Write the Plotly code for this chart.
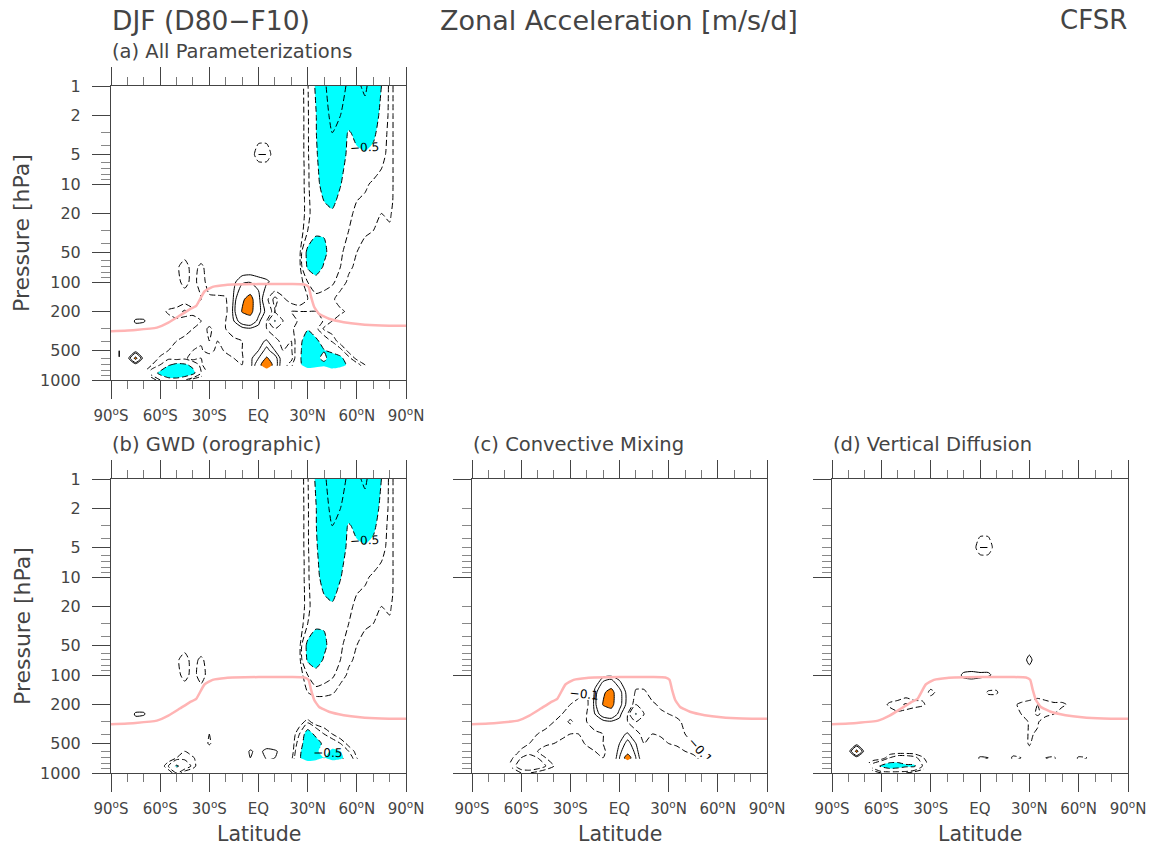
import plotly.graph_objects as go

# ---------------- data ----------------
LATS = list(range(-90, 95, 5))
PLEV = [1, 2, 3, 5, 7, 10, 15, 20, 30, 50, 70, 100, 150, 200, 250, 300, 400, 500, 600, 700, 850, 1000]

LAT_TICKS = [-90, -60, -30, 0, 30, 60, 90]
LAT_LABELS = ["90<sup>o</sup>S", "60<sup>o</sup>S", "30<sup>o</sup>S", "EQ",
              "30<sup>o</sup>N", "60<sup>o</sup>N", "90<sup>o</sup>N"]
LAT_MINOR = [-80, -70, -50, -40, -20, -10, 10, 20, 40, 50, 70, 80]
P_TICKS = [1, 2, 5, 10, 20, 50, 100, 200, 500, 1000]
P_LABELS = ["1", "2", "5", "10", "20", "50", "100", "200", "500", "1000"]
P_DECADES = [1, 10, 100, 1000]
P_MINOR_LAB = [3, 4, 6, 7, 8, 9, 30, 40, 60, 70, 80, 90, 300, 400, 600, 700, 800, 900]
P_MINOR_ALL = [2, 3, 4, 5, 6, 7, 8, 9, 20, 30, 40, 50, 60, 70, 80, 90,
               200, 300, 400, 500, 600, 700, 800, 900]

# tropopause (pink line)
TP_LAT = [-90, -75, -62, -55, -48, -42, -38, -33, -28, -20, 0, 20, 28, 30.5, 32, 34, 37, 43, 52, 62, 75, 90]
TP_P = [318, 308, 292, 260, 220, 190, 175, 125, 112, 107, 105, 105, 106, 112, 140, 180, 212, 237, 257, 270, 278, 280]

# lowest pressure level with data at each latitude (below it the field is blank)
GROUND_P = {-65: 1000, -60: 1000, -55: 1000, -50: 1000, -45: 1000, -40: 1000, -35: 1000}
GROUND_P_DEFAULT = 700

NEG_LEVELS = [-2, -1, -0.5, -0.2, -0.1]
POS_LEVELS = [0.1, 0.2, 0.5, 1, 2]
SHADE_LEVELS = [-0.5, 0.5]   # cyan below the first, orange above the second

# zonal acceleration [m/s/d]: {pressure: {latitude: value}}, unlisted = 0
GWD = {
    1: {25: -0.02, 30: -0.18, 35: -0.55, 40: -0.9, 45: -1.3, 50: -1.1, 55: -0.95, 60: -0.95, 65: -1.05, 70: -0.85, 75: -0.5, 80: -0.15, 85: -0.03},
    2: {25: -0.02, 30: -0.17, 35: -0.48, 40: -0.85, 45: -1.1, 50: -1.0, 55: -0.8, 60: -0.85, 65: -0.9, 70: -0.7, 75: -0.4, 80: -0.15, 85: -0.03},
    3: {25: -0.02, 30: -0.17, 35: -0.48, 40: -0.8, 45: -1.0, 50: -0.8, 55: -0.45, 60: -0.62, 65: -0.75, 70: -0.6, 75: -0.3, 80: -0.15, 85: -0.03},
    5: {25: -0.02, 30: -0.17, 35: -0.45, 40: -0.72, 45: -0.9, 50: -0.7, 55: -0.4, 60: -0.42, 65: -0.45, 70: -0.38, 75: -0.25, 80: -0.15, 85: -0.03},
    7: {25: -0.02, 30: -0.16, 35: -0.42, 40: -0.68, 45: -0.8, 50: -0.6, 55: -0.35, 60: -0.3, 65: -0.3, 70: -0.25, 75: -0.2, 80: -0.15, 85: -0.03},
    10: {25: -0.02, 30: -0.16, 35: -0.4, 40: -0.62, 45: -0.7, 50: -0.52, 55: -0.3, 60: -0.25, 65: -0.22, 70: -0.18, 75: -0.15, 80: -0.15, 85: -0.03},
    15: {25: -0.02, 30: -0.15, 35: -0.35, 40: -0.5, 45: -0.58, 50: -0.4, 55: -0.25, 60: -0.2, 65: -0.18, 70: -0.15, 75: -0.12, 80: -0.15, 85: -0.02},
    20: {25: -0.02, 30: -0.15, 35: -0.32, 40: -0.42, 45: -0.45, 50: -0.33, 55: -0.22, 60: -0.18, 65: -0.15, 70: -0.12, 75: -0.1, 80: -0.12, 85: -0.02},
    30: {25: -0.02, 30: -0.2, 35: -0.4, 40: -0.45, 45: -0.3, 50: -0.25, 55: -0.2, 60: -0.15, 65: -0.12, 70: -0.1, 75: -0.05, 80: -0.08},
    50: {-45: -0.05, 25: -0.05, 30: -0.6, 35: -0.8, 40: -0.6, 45: -0.3, 50: -0.22, 55: -0.15, 60: -0.1, 65: -0.05, 70: -0.02},
    70: {-50: -0.08, -45: -0.15, -40: -0.05, -35: -0.13, -30: -0.03, 25: -0.05, 30: -0.55, 35: -0.75, 40: -0.45, 45: -0.28, 50: -0.2, 55: -0.12, 60: -0.08, 65: -0.03},
    100: {-50: -0.06, -45: -0.14, -40: -0.06, -35: -0.15, -30: -0.05, 25: -0.03, 30: -0.2, 35: -0.3, 40: -0.25, 45: -0.22, 50: -0.15, 55: -0.08, 60: -0.03},
    150: {-45: -0.03, -35: -0.05, 30: -0.1, 35: -0.15, 40: -0.15, 45: -0.12, 50: -0.05},
    200: {},
    250: {-75: 0.12, -70: 0.12},
    300: {-75: 0.05, 25: -0.03, 30: -0.15},
    400: {-30: -0.1, 25: -0.2, 30: -0.7, 35: -0.4, 40: -0.2, 45: -0.1},
    500: {-85: -0.1, -30: -0.12, 25: -0.3, 30: -0.8, 35: -0.7, 40: -0.4, 45: -0.3, 50: -0.2, 55: -0.05},
    600: {-45: -0.1, -35: -0.1, -5: 0.12, 0: 0.05, 5: 0.15, 10: 0.12, 15: 0.05, 25: -0.4, 30: -0.9, 35: -0.6, 40: -0.3, 45: -0.6, 50: -0.5, 55: -0.2, 60: -0.05},
    700: {-50: -0.1, -45: -0.15, -40: -0.12, -5: 0.1, 5: 0.12, 10: 0.1, 20: -0.05, 25: -0.45, 30: -0.8, 35: -0.7, 40: -0.5, 45: -0.7, 50: -0.6, 55: -0.3, 60: -0.1, 70: -0.05},
    850: {-55: -0.2, -50: -0.55, -45: -0.35, -40: -0.15},
    1000: {-50: -0.2},
}

CONV = {
    100: {-15: 0.03, -10: 0.05, -5: 0.06, 0: 0.03},
    150: {-25: -0.05, -20: -0.12, -15: 0.12, -10: 0.45, -5: 0.62, 0: 0.25, 5: 0.05, 10: -0.12, 15: -0.12, 20: -0.05},
    200: {-35: -0.03, -30: -0.1, -25: -0.15, -20: -0.15, -15: 0.15, -10: 0.52, -5: 0.6, 0: 0.25, 5: 0.05, 10: -0.2, 15: -0.15, 20: -0.12, 25: -0.08, 30: -0.05},
    250: {-40: -0.03, -35: -0.1, -30: -0.15, -25: -0.2, -20: -0.1, -15: 0.1, -10: 0.3, -5: 0.35, 0: 0.15, 5: -0.1, 10: -0.52, 15: -0.2, 20: -0.15, 25: -0.12, 30: -0.1, 35: -0.08, 40: -0.03},
    300: {-45: -0.03, -40: -0.1, -35: -0.15, -30: -0.22, -25: -0.15, -20: -0.1, -15: -0.05, -10: 0.05, -5: 0.08, 0: 0.05, 5: -0.1, 10: -0.2, 15: -0.15, 20: -0.18, 25: -0.15, 30: -0.12, 35: -0.12, 40: -0.08, 45: -0.03},
    400: {-55: -0.03, -50: -0.1, -45: -0.15, -40: -0.2, -35: -0.12, -30: -0.1, -25: -0.1, -20: -0.15, -15: -0.12, -10: -0.1, -5: -0.05, 0: 0.05, 5: 0.12, 10: -0.05, 15: -0.15, 20: -0.1, 25: -0.12, 30: -0.15, 35: -0.12, 40: -0.1, 45: -0.08, 50: -0.03},
    500: {-60: -0.05, -55: -0.1, -50: -0.15, -45: -0.12, -40: -0.1, -35: -0.08, -30: -0.05, -25: -0.05, -20: -0.12, -15: -0.15, -10: -0.1, -5: -0.05, 0: 0.1, 5: 0.25, 10: 0.1, 15: -0.1, 20: -0.08, 25: -0.05, 30: -0.1, 35: -0.15, 40: -0.12, 45: -0.1, 50: -0.05},
    600: {-65: -0.03, -60: -0.12, -55: -0.15, -50: -0.1, -45: -0.05, -20: -0.05, -15: -0.1, -10: -0.12, -5: -0.05, 0: 0.15, 5: 0.35, 10: 0.15, 15: -0.05, 40: -0.1, 45: -0.12, 50: -0.1, 55: -0.05},
    700: {-65: -0.1, -60: -0.2, -55: -0.25, -50: -0.2, -45: -0.1, -40: -0.05, -15: -0.05, -10: -0.1, -5: -0.05, 0: 0.2, 5: 0.7, 10: 0.2, 15: -0.03, 45: -0.08, 50: -0.12, 55: -0.1, 60: -0.05},
    850: {-65: -0.15, -60: -0.3, -55: -0.35, -50: -0.3, -45: -0.2, -40: -0.1},
    1000: {-60: -0.1, -55: -0.1, -50: -0.05},
}

VDIFF = {
    5: {0: -0.2, 5: -0.2},
    70: {30: 0.15},
    100: {-15: 0.05, -10: 0.12, -5: 0.13, 0: 0.12, 5: 0.12, 10: 0.06},
    150: {-35: -0.05, -30: -0.12, -25: -0.08, 5: -0.12, 10: -0.12},
    200: {-60: -0.05, -55: -0.12, -50: -0.15, -45: -0.22, -40: -0.15, -35: -0.12, -30: -0.05, 20: -0.08, 25: -0.12, 30: -0.15, 35: -0.2, 40: -0.15, 45: -0.12, 50: -0.12, 55: -0.08},
    250: {-55: -0.05, -50: -0.08, 25: -0.1, 30: -0.15, 35: -0.22, 40: -0.15, 45: -0.1, 50: -0.05},
    300: {30: -0.12, 35: -0.12},
    400: {30: -0.12, 35: -0.08},
    500: {30: -0.12},
    600: {-85: -0.1, -75: 0.6, 20: -0.05, 30: -0.05},
    700: {-55: -0.2, -50: -0.3, -45: -0.3, -40: -0.25, -35: -0.12, 0: 0.12, 5: 0.1, 20: -0.12, 25: -0.1, 40: -0.1, 45: -0.12, 60: -0.12, 65: -0.1, 80: -0.1},
    850: {-65: -0.3, -60: -0.55, -55: -0.7, -50: -0.65, -45: -0.55, -40: -0.55, -35: -0.2},
    1000: {-60: -0.1, -55: -0.1, -50: -0.1, -45: -0.1},
}

ALL = {
    1: {25: -0.02, 30: -0.18, 35: -0.55, 40: -0.9, 45: -1.3, 50: -1.1, 55: -0.95, 60: -0.95, 65: -1.05, 70: -0.85, 75: -0.5, 80: -0.15, 85: -0.03},
    2: {25: -0.02, 30: -0.17, 35: -0.48, 40: -0.85, 45: -1.1, 50: -1.0, 55: -0.8, 60: -0.85, 65: -0.9, 70: -0.7, 75: -0.4, 80: -0.15, 85: -0.03},
    3: {25: -0.02, 30: -0.17, 35: -0.48, 40: -0.8, 45: -1.0, 50: -0.8, 55: -0.45, 60: -0.62, 65: -0.75, 70: -0.6, 75: -0.3, 80: -0.15, 85: -0.03},
    5: {0: -0.2, 5: -0.2, 25: -0.02, 30: -0.17, 35: -0.45, 40: -0.72, 45: -0.9, 50: -0.7, 55: -0.4, 60: -0.42, 65: -0.45, 70: -0.38, 75: -0.25, 80: -0.15, 85: -0.03},
    7: {25: -0.02, 30: -0.16, 35: -0.42, 40: -0.68, 45: -0.8, 50: -0.6, 55: -0.35, 60: -0.3, 65: -0.3, 70: -0.25, 75: -0.2, 80: -0.15, 85: -0.03},
    10: {25: -0.02, 30: -0.16, 35: -0.4, 40: -0.62, 45: -0.7, 50: -0.52, 55: -0.3, 60: -0.25, 65: -0.22, 70: -0.18, 75: -0.15, 80: -0.15, 85: -0.03},
    15: {25: -0.02, 30: -0.15, 35: -0.35, 40: -0.5, 45: -0.58, 50: -0.4, 55: -0.25, 60: -0.2, 65: -0.18, 70: -0.15, 75: -0.12, 80: -0.15, 85: -0.02},
    20: {25: -0.02, 30: -0.15, 35: -0.32, 40: -0.42, 45: -0.45, 50: -0.33, 55: -0.22, 60: -0.18, 65: -0.15, 70: -0.12, 75: -0.1, 80: -0.12, 85: -0.02},
    30: {25: -0.02, 30: -0.2, 35: -0.4, 40: -0.45, 45: -0.3, 50: -0.25, 55: -0.2, 60: -0.15, 65: -0.12, 70: -0.1, 75: -0.05, 80: -0.08},
    50: {-45: -0.05, 25: -0.05, 30: -0.6, 35: -0.8, 40: -0.6, 45: -0.3, 50: -0.22, 55: -0.15, 60: -0.1, 65: -0.05, 70: -0.02},
    70: {-50: -0.08, -45: -0.15, -40: -0.05, -35: -0.13, -30: -0.03, 25: -0.05, 30: -0.55, 35: -0.75, 40: -0.45, 45: -0.28, 50: -0.2, 55: -0.12, 60: -0.08, 65: -0.03},
    100: {-50: -0.06, -45: -0.14, -40: -0.06, -35: -0.15, -30: -0.05, -15: 0.08, -10: 0.17, -5: 0.19, 0: 0.15, 5: 0.12, 10: 0.06, 25: -0.03, 30: -0.2, 35: -0.3, 40: -0.25, 45: -0.22, 50: -0.15, 55: -0.08, 60: -0.03},
    150: {-45: -0.03, -35: -0.1, -30: -0.12, -25: -0.13, -20: -0.12, -15: 0.12, -10: 0.45, -5: 0.62, 0: 0.25, 5: -0.07, 10: -0.24, 15: -0.12, 20: -0.05, 30: -0.1, 35: -0.15, 40: -0.15, 45: -0.12, 50: -0.05},
    200: {-60: -0.05, -55: -0.12, -50: -0.15, -45: -0.22, -40: -0.15, -35: -0.15, -30: -0.15, -25: -0.15, -20: -0.15, -15: 0.15, -10: 0.52, -5: 0.6, 0: 0.25, 5: 0.05, 10: -0.2, 15: -0.15, 20: -0.2, 25: -0.2, 30: -0.2, 35: -0.2, 40: -0.15, 45: -0.12, 50: -0.12, 55: -0.08},
    250: {-75: 0.12, -70: 0.12, -55: -0.05, -50: -0.08, -40: -0.03, -35: -0.1, -30: -0.15, -25: -0.2, -20: -0.1, -15: 0.1, -10: 0.3, -5: 0.35, 0: 0.15, 5: -0.1, 10: -0.52, 15: -0.2, 20: -0.15, 25: -0.22, 30: -0.25, 35: -0.3, 40: -0.18, 45: -0.1, 50: -0.05},
    300: {-75: 0.05, -45: -0.03, -40: -0.1, -35: -0.15, -30: -0.22, -25: -0.15, -20: -0.1, -15: -0.05, -10: 0.05, -5: 0.08, 0: 0.05, 5: -0.1, 10: -0.2, 15: -0.15, 20: -0.18, 25: -0.25, 30: -0.45, 35: -0.24, 40: -0.08, 45: -0.03},
    400: {-55: -0.03, -50: -0.1, -45: -0.15, -40: -0.2, -35: -0.12, -30: -0.2, -25: -0.1, -20: -0.15, -15: -0.12, -10: -0.1, -5: -0.05, 0: 0.05, 5: 0.12, 10: -0.05, 15: -0.15, 20: -0.1, 25: -0.32, 30: -0.87, 35: -0.6, 40: -0.3, 45: -0.18, 50: -0.03},
    500: {-85: -0.1, -60: -0.05, -55: -0.1, -50: -0.15, -45: -0.12, -40: -0.1, -35: -0.08, -30: -0.17, -25: -0.05, -20: -0.12, -15: -0.15, -10: -0.1, -5: -0.05, 0: 0.1, 5: 0.25, 10: 0.1, 15: -0.1, 20: -0.08, 25: -0.35, 30: -1.0, 35: -0.85, 40: -0.52, 45: -0.4, 50: -0.25, 55: -0.05},
    600: {-85: -0.1, -75: 0.6, -65: -0.03, -60: -0.12, -55: -0.15, -50: -0.1, -45: -0.15, -35: -0.1, -20: -0.05, -15: -0.1, -10: -0.12, -5: 0.07, 0: 0.2, 5: 0.55, 10: 0.27, 20: -0.05, 25: -0.4, 30: -0.95, 35: -0.6, 40: -0.4, 45: -0.72, 50: -0.6, 55: -0.25, 60: -0.05},
    700: {-65: -0.1, -60: -0.2, -55: -0.45, -50: -0.6, -45: -0.55, -40: -0.42, -35: -0.12, -15: -0.05, -10: -0.1, -5: 0.05, 0: 0.32, 5: 0.92, 10: 0.3, 15: -0.03, 20: -0.17, 25: -0.4, 30: -0.8, 35: -0.7, 40: -0.6, 45: -0.9, 50: -0.72, 55: -0.4, 60: -0.27, 65: -0.1, 70: -0.05, 80: -0.1},
    850: {-65: -0.3, -60: -0.6, -55: -0.9, -50: -1.0, -45: -0.8, -40: -0.6, -35: -0.2},
    1000: {-60: -0.2, -55: -0.3, -50: -0.3, -45: -0.2},
}

PANELS = [
    ("(a) All Parameterizations", ALL, [-0.5]),
    ("(b) GWD (orographic)", GWD, [-0.5]),
    ("(c) Convective Mixing", CONV, [-0.1]),
    ("(d) Vertical Diffusion", VDIFF, []),
]

# ---------------- layout geometry (pixels) ----------------
W, H = 1154, 847
BOXES = [(111, 406, 86, 380), (111, 406, 479, 773), (472, 767, 479, 773), (832, 1128, 479, 773)]
CYAN = "#00FFFF"
ORANGE = "#FF8000"
INK = "#444444"
FONT = "DejaVu Sans"
SMOOTH = 0.6
SHADE_SCALE = [[0, CYAN], [0.25, CYAN], [0.25, "white"], [0.75, "white"],
               [0.75, ORANGE], [1, ORANGE]]


def grid(rows, masked):
    out = []
    for p in PLEV:
        row = []
        for lat in LATS:
            below = p > GROUND_P.get(lat, GROUND_P_DEFAULT)
            v = float(rows.get(p, {}).get(lat, 0.0))
            row.append(None if (below and masked) else (0.0 if below else v))
        out.append(row)
    return out


fig = go.Figure()
layout = {}

for i, ((title, rows, labelled_levels), (x0, x1, y0, y1)) in enumerate(zip(PANELS, BOXES), start=1):
    xa = "x" if i == 1 else f"x{i}"
    ya = "y" if i == 1 else f"y{i}"
    base = dict(x=LATS, y=PLEV, xaxis=xa, yaxis=ya, showscale=False,
                hoverinfo="skip", showlegend=False)
    fig.add_trace(go.Contour(**base, z=grid(rows, masked=False), autocontour=False,
                             contours=dict(start=SHADE_LEVELS[0], end=SHADE_LEVELS[1],
                                           size=SHADE_LEVELS[1] - SHADE_LEVELS[0],
                                           coloring="fill", showlines=False),
                             colorscale=SHADE_SCALE, line=dict(width=0, smoothing=SMOOTH)))
    zl = grid(rows, masked=True)
    for lev in NEG_LEVELS + POS_LEVELS:
        fig.add_trace(go.Contour(
            **base, z=zl, connectgaps=False, autocontour=False,
            contours=dict(start=lev, end=lev, size=1, coloring="none",
                          showlabels=lev in labelled_levels,
                          labelfont=dict(size=12, color="black", family=FONT)),
            line=dict(color="black", width=1, smoothing=SMOOTH,
                      dash="6px,3px" if lev < 0 else "solid")))
    fig.add_trace(go.Scatter(x=TP_LAT, y=TP_P, mode="lines", xaxis=xa, yaxis=ya,
                             line=dict(color="#FFB4B4", width=2.5, shape="spline", smoothing=0.4),
                             hoverinfo="skip", showlegend=False))

    xdom = [x0 / W, x1 / W]
    ydom = [1 - y1 / H, 1 - y0 / H]
    labelled = i <= 2
    layout["xaxis" if i == 1 else f"xaxis{i}"] = dict(
        domain=xdom, anchor=ya, range=[-90, 90], tickmode="array", automargin=False,
        tickvals=LAT_TICKS, ticktext=LAT_LABELS, ticks="outside", ticklen=18,
        tickwidth=1, tickcolor=INK, showline=True, linecolor=INK, linewidth=1,
        mirror="ticks", showgrid=False, zeroline=False, ticklabelstandoff=4,
        tickfont=dict(size=15, color=INK, family=FONT),
        minor=dict(ticks="outside", tickmode="array", tickvals=LAT_MINOR, ticklen=8,
                   tickcolor="#777777", tickwidth=1, showgrid=False))
    layout["yaxis" if i == 1 else f"yaxis{i}"] = dict(
        domain=ydom, anchor=xa, type="log", range=[3, 0], tickmode="array", automargin=False,
        tickvals=P_TICKS if labelled else P_DECADES,
        ticktext=P_LABELS if labelled else ["1", "10", "100", "1000"],
        showticklabels=labelled, ticks="outside", ticklen=18, tickwidth=1, tickcolor=INK,
        showline=True, linecolor=INK, linewidth=1, mirror=True, showgrid=False,
        zeroline=False, ticklabelstandoff=8,
        tickfont=dict(size=16, color=INK, family=FONT),
        minor=dict(ticks="outside", tickmode="array",
                   tickvals=P_MINOR_LAB if labelled else P_MINOR_ALL, ticklen=9,
                   tickcolor="#888888", tickwidth=1, showgrid=False))
    layout[f"yaxis{i + 4}"] = dict(
        overlaying=ya, side="right", anchor=xa, type="log", range=[3, 0], automargin=False,
        tickmode="array", tickvals=P_DECADES, showticklabels=False, ticks="outside",
        ticklen=18, tickwidth=1, tickcolor=INK, showline=False, showgrid=False,
        zeroline=False,
        minor=dict(ticks="outside", tickmode="array", tickvals=P_MINOR_ALL, ticklen=9,
                   tickcolor="#888888", tickwidth=1, showgrid=False))

annotations = []


def ann(text, px, py, size, xanchor="left", yanchor="middle", angle=0):
    annotations.append(dict(text=text, x=px / W, y=1 - py / H, xref="paper", yref="paper",
                            xanchor=xanchor, yanchor=yanchor, showarrow=False, textangle=angle,
                            font=dict(size=size, color=INK, family=FONT)))


ann("DJF (D80\u2212F10)", 110, 20, 26.5)
ann("Zonal Acceleration [m/s/d]", 619, 20, 27, xanchor="center")
ann("CFSR", 1129, 20, 26, xanchor="right")
for (title, _, _), (x0, x1, y0, y1) in zip(PANELS, BOXES):
    ann(title, x0 - 1, y0 - 34, 19.5)
for (x0, x1, y0, y1) in BOXES[:2]:
    ann("Pressure [hPa]", 22, (y0 + y1) / 2, 22, xanchor="center", angle=-90)
for (x0, x1, y0, y1) in BOXES[1:]:
    ann("Latitude", (x0 + x1) / 2, 834, 20.5, xanchor="center")

fig.update_layout(width=W, height=H, margin=dict(l=0, r=0, t=0, b=0, autoexpand=False),
                  paper_bgcolor="white", plot_bgcolor="white",
                  font=dict(family=FONT, color=INK), annotations=annotations,
                  showlegend=False, **layout)

fig.write_html("out.html", config={"displayModeBar": False, "staticPlot": True},
               post_script="document.body.style.margin='0';document.body.style.overflow='hidden';")
